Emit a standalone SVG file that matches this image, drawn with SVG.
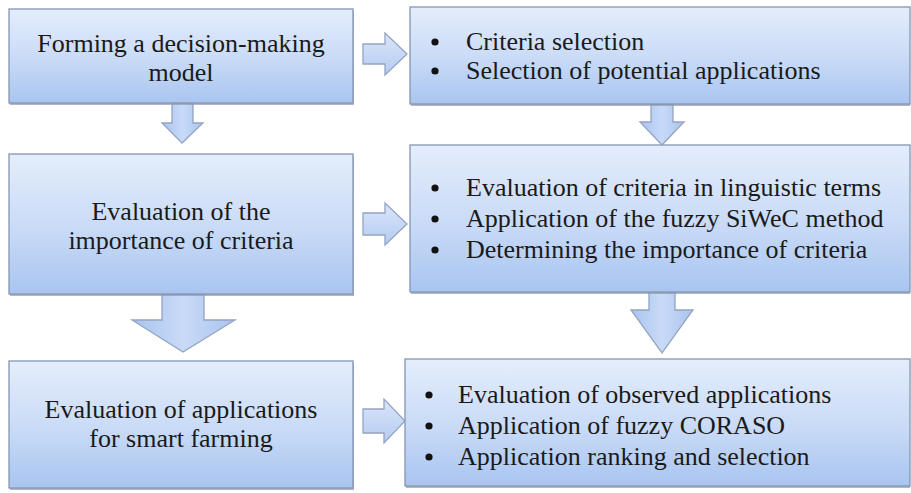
<svg xmlns="http://www.w3.org/2000/svg" width="911" height="493" viewBox="0 0 911 493">
  <defs>
    <linearGradient id="boxGrad" x1="0" y1="0" x2="0" y2="1">
      <stop offset="0" stop-color="#e4edfb"/>
      <stop offset="0.5" stop-color="#cbdcf7"/>
      <stop offset="1" stop-color="#a9c5f0"/>
    </linearGradient>
    <linearGradient id="arrGradH" x1="0" y1="0" x2="0" y2="1">
      <stop offset="0" stop-color="#dbe6fa"/>
      <stop offset="1" stop-color="#b3cbf2"/>
    </linearGradient>
    <linearGradient id="arrGradV" x1="0" y1="0" x2="1" y2="0">
      <stop offset="0" stop-color="#a9c4f0"/>
      <stop offset="0.5" stop-color="#c8daf7"/>
      <stop offset="1" stop-color="#a9c4f0"/>
    </linearGradient>
  </defs>
  <style>
    .shadow { fill: #8f99aa; opacity: 0.7; }
    .box { fill: url(#boxGrad); stroke: #8595b2; stroke-width: 1.3; }
    .arrH { fill: url(#arrGradH); stroke: #95a4bf; stroke-width: 1.3; stroke-linejoin: miter; }
    .arrV { fill: url(#arrGradV); stroke: #95a4bf; stroke-width: 1.3; stroke-linejoin: miter; }
    text { font-family: "Liberation Serif", "DejaVu Serif", serif; font-size: 26px; fill: #1a1a1a; }
    .c { text-anchor: middle; }
    .b { fill: #111; }
  </style>
  <rect width="911" height="493" fill="#ffffff"/>

  <g id="connectors">
    <path class="arrH" d="M363,44 H385 V33 L407,54 L385,75 V64 H363 Z"/>
    <path class="arrH" d="M363,213 H385 V203 L407,224 L385,245 V235 H363 Z"/>
    <path class="arrH" d="M363,409 H384 V399 L405,421 L384,443 V433 H363 Z"/>
    <path class="arrV" d="M172,103 V123 H162 L182,143 L203,123 H193 V103 Z"/>
    <path class="arrV" d="M162,294 V320 H132 L183,352 L235,320 H204 V294 Z"/>
    <path class="arrV" d="M651,104 V122 H640 L662,145 L684,122 H673 V104 Z"/>
    <path class="arrV" d="M649,292 V310 H631 L662,353 L693,310 H675 V292 Z"/>
  </g>

  <g id="n1">
    <rect class="shadow" x="10" y="11" width="344" height="94"/>
    <rect class="box" x="9" y="9" width="344" height="94"/>
    <text class="c" x="181" y="52">Forming a decision-making</text>
    <text class="c" x="181" y="81">model</text>
  </g>

  <g id="n2">
    <rect class="shadow" x="411" y="9" width="499" height="97"/>
    <rect class="box" x="410" y="7" width="500" height="97"/>
    <circle class="b" cx="435" cy="42" r="3.6"/>
    <text x="466" y="50">Criteria selection</text>
    <circle class="b" cx="435" cy="71" r="3.6"/>
    <text x="466" y="79">Selection of potential applications</text>
  </g>

  <g id="n3">
    <rect class="shadow" x="10" y="156" width="344" height="140"/>
    <rect class="box" x="9" y="154" width="344" height="140"/>
    <text class="c" x="181" y="220">Evaluation of the</text>
    <text class="c" x="181" y="249">importance of criteria</text>
  </g>

  <g id="n4">
    <rect class="shadow" x="411" y="147" width="499" height="147"/>
    <rect class="box" x="410" y="145" width="500" height="147"/>
    <circle class="b" cx="435" cy="188" r="3.6"/>
    <text x="466" y="196">Evaluation of criteria in linguistic terms</text>
    <circle class="b" cx="435" cy="219" r="3.6"/>
    <text x="466" y="227">Application of the fuzzy SiWeC method</text>
    <circle class="b" cx="435" cy="250" r="3.6"/>
    <text x="466" y="258">Determining the importance of criteria</text>
  </g>

  <g id="n5">
    <rect class="shadow" x="10" y="363" width="344" height="127"/>
    <rect class="box" x="9" y="361" width="344" height="127"/>
    <text class="c" x="181" y="418">Evaluation of applications</text>
    <text class="c" x="181" y="447">for smart farming</text>
  </g>

  <g id="n6">
    <rect class="shadow" x="406" y="361" width="504" height="127"/>
    <rect class="box" x="405" y="359" width="505" height="127"/>
    <circle class="b" cx="429" cy="395" r="3.6"/>
    <text x="458" y="403">Evaluation of observed applications</text>
    <circle class="b" cx="429" cy="426" r="3.6"/>
    <text x="458" y="434">Application of fuzzy CORASO</text>
    <circle class="b" cx="429" cy="457" r="3.6"/>
    <text x="458" y="465">Application ranking and selection</text>
  </g>
</svg>
